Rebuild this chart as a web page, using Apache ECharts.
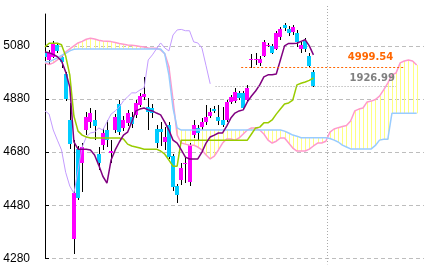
<!DOCTYPE html>
<html><head><meta charset="utf-8">
<script src="https://cdn.jsdelivr.net/npm/echarts@6/dist/echarts.min.js"></script>
<style>html,body{margin:0;padding:0;background:#fff}#c{width:429px;height:272px}</style>
</head><body><div id="c"></div>
<script>
// ---- data ----
const yTicks = [4280, 4480, 4680, 4880, 5080];
const yMin = 4280, yMax = 5200;
const open = [5054,5027,5039,5084,5039,4974,4801,4352,4691,4639,
  4763,4793,4801,4673,4706,4763,4676,4763,4861,4771,
  4790,4812,4820,4857,4888,4850,4846,4767,4767,4718,
  4782,4665,4552,4574,4635,4567,4744,4771,4774,4793,
  4816,4842,4812,4801,4801,4869,4872,4903,4903,4876,
  5027,5029,5016,5042,5083,5080,5069,5114,5159,5144,
  5133,5129,5069,5099,5042,4982];
const close = [5039,5054,5091,5061,5020,4880,4710,4525,4506,4699,
  4812,4827,4778,4639,4752,4725,4684,4812,4755,4801,
  4827,4786,4865,4891,4899,4831,4827,4714,4755,4737,
  4661,4548,4518,4620,4638,4706,4782,4752,4793,4812,
  4831,4835,4797,4782,4869,4888,4906,4884,4846,4922,
  5031,5031,5031,5095,5085,5054,5129,5144,5148,5129,
  5152,5095,5084,5069,5005,4929];
const low = [5031,5012,5035,5054,4997,4873,4691,4295,4499,4529,
  4744,4771,4725,4612,4688,4699,4639,4752,4744,4759,
  4778,4771,4808,4850,4876,4763,4808,4695,4703,4688,
  4654,4533,4488,4555,4563,4552,4733,4725,4763,4782,
  4808,4827,4782,4774,4793,4861,4865,4876,4839,4869,
  4997,5008,5005,5039,5076,5050,5065,5103,5137,5118,
  5122,5076,5054,5057,5001,4925];
const high = [5061,5065,5099,5091,5046,4982,4865,4725,4703,4714,
  4831,4846,4839,4699,4771,4801,4725,4823,4876,4816,
  4839,4831,4876,4903,4963,4884,4861,4782,4793,4774,
  4793,4672,4559,4638,4661,4714,4801,4782,4808,4857,
  4846,4854,4857,4850,4876,4895,4922,4910,4910,4933,
  5050,5054,5042,5103,5091,5088,5137,5152,5167,5156,
  5159,5140,5095,5110,5054,4989];
const tenkan = [5057,5054,5048,5039,5023,4982,4925,4718,4691,4691,
  4691,4688,4669,4631,4589,4563,4650,4688,4718,4744,
  4755,4793,4835,4842,4846,4839,4835,4827,4820,4793,
  4763,4725,4714,4688,4661,4654,4654,4654,4680,4714,
  4737,4744,4752,4752,4778,4808,4827,4835,4839,4869,
  4891,4910,4933,4963,4971,4971,4974,5027,5080,5089,
  5089,5090,5097,5103,5080,5046];
const kijun = [5076,5090,5090,5090,5084,5042,4971,4816,4759,4744,
  4737,4733,4733,4733,4733,4733,4733,4733,4733,4729,
  4710,4703,4699,4695,4691,4691,4691,4691,4684,4672,
  4650,4627,4627,4725,4725,4725,4725,4725,4725,4725,
  4725,4725,4725,4725,4725,4725,4725,4725,4725,4725,
  4748,4771,4774,4790,4790,4801,4823,4842,4861,4865,
  4876,4933,4939,4944,4950,4959];
const chikou = [4835,4823,4763,4725,4688,4604,4552,4525,4612,4699,
  4737,4752,4755,4771,4763,4793,4823,4835,4850,4873,
  4888,4903,4903,4914,4922,5027,5046,5069,5091,5072,
  5061,5121,5140,5142,5137,5137,5095,5091,5072,5005,
  4937];
const senkouA = [5016,5010,5016,5027,5039,5057,5069,5080,5091,5097,
  5105,5109,5106,5101,5098,5097,5096,5093,5089,5086,
  5083,5082,5080,5078,5076,5072,5071,5071,5065,5050,
  5001,4876,4744,4714,4710,4706,4706,4699,4688,4669,
  4654,4665,4688,4714,4729,4729,4725,4733,4748,4763,
  4771,4771,4763,4748,4725,4714,4721,4733,4733,4714,
  4695,4684,4684,4684,4691,4703,4714,4714,4721,4755,
  4767,4772,4776,4780,4797,4835,4842,4846,4869,4872,
  4878,4891,4914,4940,4971,4978,5016,5023,5027,5023,
  5008];
const senkouB = [5020,5020,5027,5035,5044,5052,5061,5067,5068,5068,
  5068,5068,5068,5068,5068,5068,5068,5068,5068,5068,
  5068,5068,5068,5068,5068,5068,5068,5068,5068,5050,
  4971,4846,4771,4763,4763,4763,4763,4763,4763,4763,
  4763,4763,4763,4763,4763,4763,4763,4763,4763,4763,
  4763,4763,4763,4763,4763,4763,4763,4763,4759,4752,
  4744,4740,4734,4734,4734,4734,4734,4734,4734,4731,
  4725,4718,4706,4699,4692,4692,4692,4692,4692,4692,
  4705,4725,4728,4728,4826,4826,4826,4826,4826,4826,
  4826];
const priceLevels = [4999.54, 4926.99];
const priceLabels = ['4999.54', '1926.99'];
const levelSpans = [[47.5, 86.75], [41.3, 85]];
const dividerAt = 68.3;
const xMax = 91.77;

// ---- build ----
const UP = '#ff00ff', DOWN = '#00ccff', HATCH = '#ffff80';
const pts = arr => arr.map((v, i) => [i, v]);
const candleData = open.map((o, i) => [i, o, close[i], low[i], high[i]]);
const cloudData = senkouA.map((a, i) => [i, a, senkouB[i]]);

const lineS = (data, color, width) => ({
  type: 'line', data: pts(data), showSymbol: false, symbol: 'none',
  lineStyle: { color, width }, silent: true, animation: false
});

function hatchRender(params, api) {
  const x = api.value(0);
  const pA = api.coord([x, api.value(1)]), pB = api.coord([x, api.value(2)]);
  const px = Math.round(pA[0]) + 0.5;
  return { type: 'line', shape: { x1: px, y1: pA[1], x2: px, y2: pB[1] },
    style: { stroke: HATCH, lineWidth: 1 } };
}
function wickRender(params, api) {
  const x = api.value(0);
  const pH = api.coord([x, api.value(4)]), pL = api.coord([x, api.value(3)]);
  const px = Math.round(pH[0]) + 0.5;
  if (px < params.coordSys.x) return null;
  return { type: 'line', shape: { x1: px, y1: Math.round(pH[1]), x2: px, y2: Math.round(pL[1]) },
    style: { stroke: '#000', lineWidth: 1 } };
}
function bodyRender(params, api) {
  const x = api.value(0), o = api.value(1), c = api.value(2);
  const pO = api.coord([x, o]), pC = api.coord([x, c]);
  const cx = Math.round(pO[0]);
  const left = Math.max(cx - 2, params.coordSys.x), right = cx + 2;
  const top = Math.round(Math.min(pO[1], pC[1])), bot = Math.round(Math.max(pO[1], pC[1]));
  return { type: 'rect', shape: { x: left, y: top, width: right - left, height: Math.max(1, bot - top) },
    style: { fill: c >= o ? UP : DOWN } };
}

const chart = echarts.init(document.getElementById('c'), null, { renderer: 'canvas' });
chart.setOption({
  animation: false,
  grid: { left: 45, right: 5, top: 14, bottom: 13.7 },
  xAxis: { type: 'value', min: 0, max: xMax, show: false },
  yAxis: {
    type: 'value', min: yMin, max: yMax, interval: 200,
    axisLine: { show: true, lineStyle: { color: '#000', width: 1 } },
    axisTick: { show: true, inside: true, length: 4, lineStyle: { color: '#000' } },
    axisLabel: { color: '#000', fontSize: 12, margin: 15, showMaxLabel: false,
      formatter: v => String(v),
      fontFamily: "'Liberation Sans Narrow','Liberation Sans',sans-serif" },
    splitLine: { show: true, showMaxLine: false, lineStyle: { color: '#bdbdbd', type: [4, 3], width: 1 } }
  },
  series: [
    { type: 'custom', data: cloudData, renderItem: hatchRender, silent: true, encode: { x: 0, y: [1, 2] } },
    lineS(senkouA, '#ff99cc', 1.5),
    lineS(senkouB, '#99ccff', 1.5),
    lineS(chikou, '#c39bff', 1),
    lineS(kijun, '#99cc00', 1.5),
    lineS(tenkan, '#800080', 1.5),
    { type: 'custom', data: candleData, renderItem: wickRender, silent: true, encode: { x: 0, y: [1, 2, 3, 4] } },
    { type: 'custom', data: candleData, renderItem: bodyRender, silent: true, encode: { x: 0, y: [1, 2, 3, 4] } },
    { type: 'line', data: [], clip: false, silent: true,
      markLine: {
        symbol: 'none', silent: true, animation: false,
        data: [
          [{ coord: [levelSpans[0][0], priceLevels[0]],
             lineStyle: { color: '#ff6600', type: [2, 2], width: 1 },
             label: { show: true, position: 'insideEndTop', formatter: () => priceLabels[0],
               color: '#ff6600', fontWeight: 'bold', fontSize: 10, fontFamily: 'DejaVu Sans', distance: [10, 5] } },
           { coord: [levelSpans[0][1], priceLevels[0]] }],
          [{ coord: [levelSpans[1][0], priceLevels[1]],
             lineStyle: { color: '#a0a0a0', type: [1, 2], width: 1 },
             label: { show: true, position: 'insideEndTop', formatter: () => priceLabels[1],
               color: '#808080', fontWeight: 'bold', fontSize: 10, fontFamily: 'DejaVu Sans', distance: [1, 3] } },
           { coord: [levelSpans[1][1], priceLevels[1]] }]
        ]
      } }
  ]
});
const pTop = chart.convertToPixel({ gridIndex: 0 }, [dividerAt, yMax]);
const pBot = chart.convertToPixel({ gridIndex: 0 }, [dividerAt, yMin]);
const dx = Math.round(pTop[0]) + 0.5;
chart.setOption({ graphic: [{ type: 'line', silent: true,
  shape: { x1: dx, y1: pTop[1] - 8, x2: dx, y2: pBot[1] + 6 },
  style: { stroke: '#aaaaaa', lineDash: [1, 2], lineWidth: 1 } }] });
</script>
</body></html>
